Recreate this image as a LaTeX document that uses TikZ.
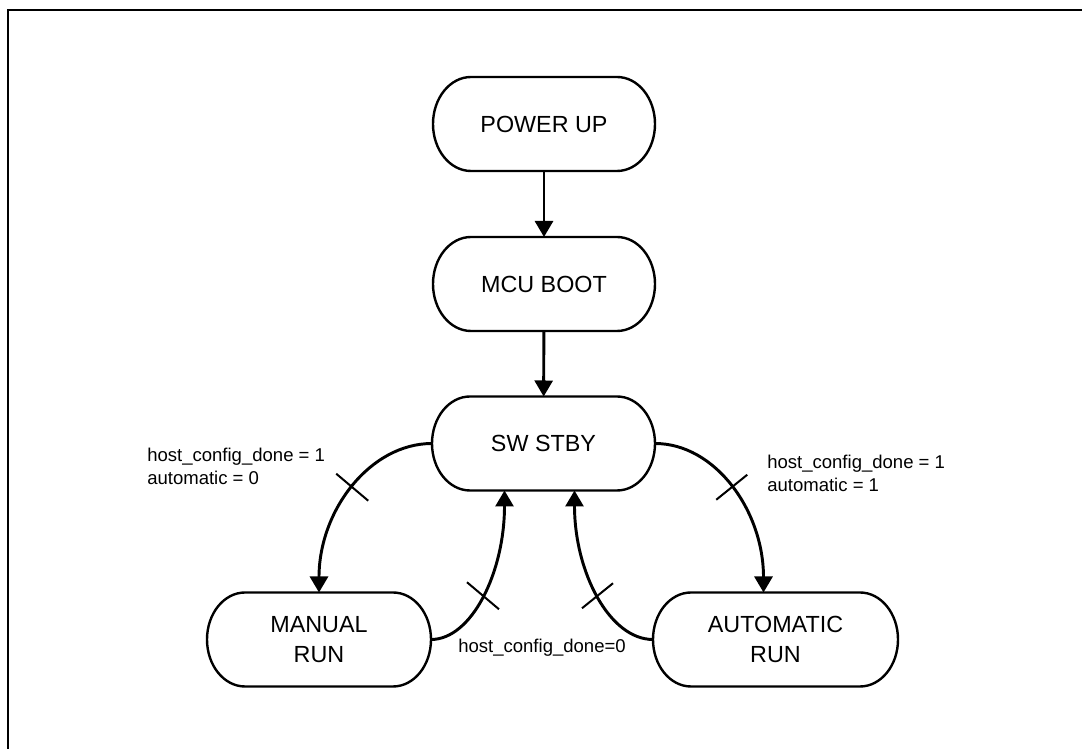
\documentclass[tikz,border=0pt]{standalone}
\usepackage{fontspec}
\setmainfont{Liberation Sans}
\usetikzlibrary{arrows.meta,calc}
\newcommand\stadiumdraw[1]{%
  \draw[border] ([xshift=28.5pt]#1.north west) -- ([xshift=-28.5pt]#1.north east)
    arc[start angle=90,end angle=-90,x radius=28.5pt,y radius=35.25pt]
    -- ([xshift=28.5pt]#1.south west)
    arc[start angle=270,end angle=90,x radius=28.5pt,y radius=35.25pt] -- cycle;}
\begin{document}
\begin{tikzpicture}[x=0.75pt,y=0.75pt,
  border/.style={line width=1.8pt},
  state/.style={inner sep=0pt, outer sep=0pt, minimum height=70.5pt, align=center,
    font=\fontsize{17.5}{22.5}\selectfont},
  conn/.style={line width=2.2pt, -{Triangle[length=12pt,width=13.5pt]}},
  lbl/.style={inner sep=0pt, align=left, font=\fontsize{13.9}{17.25}\selectfont},
  tickline/.style={line width=1.5pt}
]
\useasboundingbox (0,0) rectangle (1082,749);
\clip (0,0) rectangle (1082,749);
\draw[line width=1.8pt] (8,-30) |- (1120,739);

\node[state, minimum width=166.5pt] (pu) at (544,625) {POWER UP};
\node[state, minimum width=166.5pt] (mcu) at (544,465) {MCU BOOT};
\node[state, minimum width=167.25pt] (sw) at (543.5,305.5) {SW STBY};
\node[state, minimum width=168pt] (man) at (319,109.5) {MANUAL\\RUN};
\node[state, minimum width=183.75pt] (aut) at (775.5,109.5) {AUTOMATIC\\RUN};
\stadiumdraw{pu}
\stadiumdraw{mcu}
\stadiumdraw{sw}
\stadiumdraw{man}
\stadiumdraw{aut}

\draw[conn] (pu) -- (mcu);
\draw[conn] (mcu) -- (sw);
\draw[conn] (sw.west) .. controls +(-62,0) and +(0,82) .. coordinate[pos=0.5] (t1) (man.north);
\draw[conn] (man.east) .. controls +(40.6,0) and +(0,-82) .. coordinate[pos=0.5] (t2) ($(sw.south)+(-39,0)$);
\draw[conn] (aut.west) .. controls +(-43.3,0) and +(0,-82) .. coordinate[pos=0.5] (t3) ($(sw.south)+(31,0)$);
\draw[conn] (sw.east) .. controls +(60,0) and +(0,82) .. coordinate[pos=0.5] (t4) ($(aut.north)+(-12,0)$);

\draw[tickline] (t1) +(-16,13.5) -- +(16,-13.5);
\draw[tickline] (t2) +(-16,13.5) -- +(16,-13.5);
\draw[tickline] (t3) +(-15.5,-12.5) -- +(15.5,12.5);
\draw[tickline] (t4) +(-15.5,-12.5) -- +(15.5,12.5);

\node[lbl, anchor=north west] (l1) at (147,301) {host\_config\_done = 1\\automatic = 0};
\node[lbl, anchor=north west] (l2) at (767,294) {host\_config\_done = 1\\automatic = 1};
\node[lbl, anchor=base] (l3) at (542,96) {host\_config\_done=0};
\end{tikzpicture}
\end{document}
